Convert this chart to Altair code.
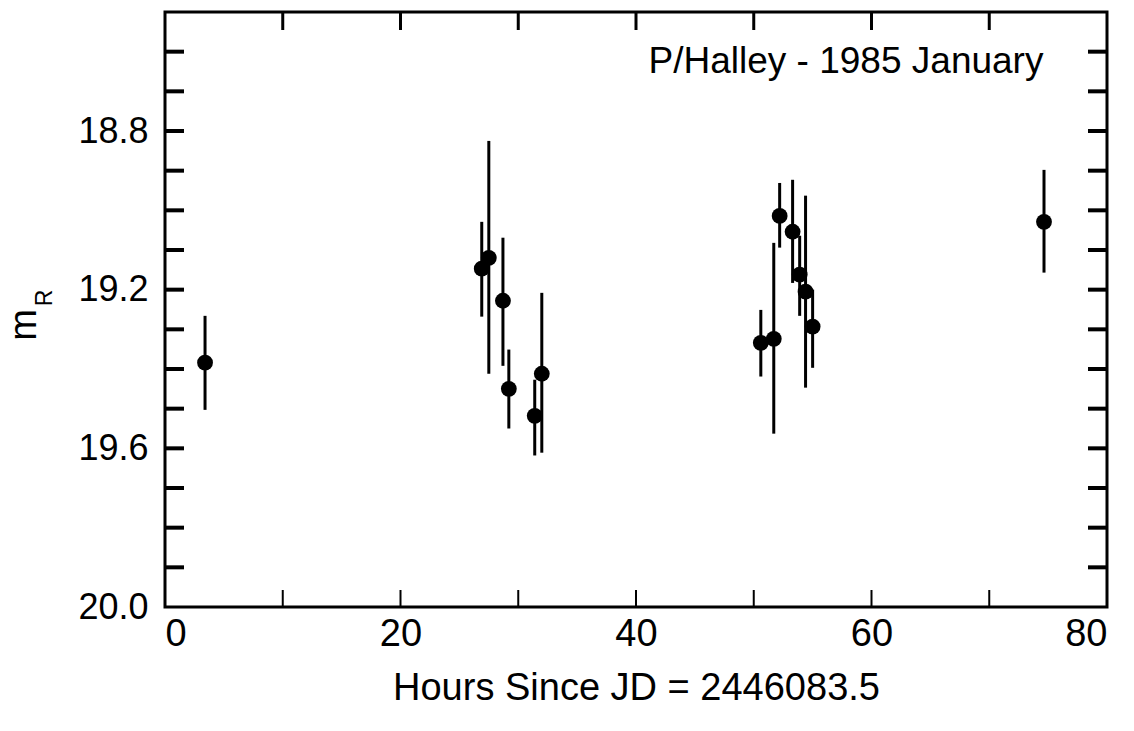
import altair as alt
import pandas as pd

# Data
hours = [3.4, 26.9, 27.5, 28.7, 29.2, 31.4, 32.0, 50.6, 51.7, 52.2, 53.3, 53.9, 54.4, 55.0, 74.65]
mag = [19.384, 19.147, 19.120, 19.228, 19.450, 19.518, 19.412, 19.334, 19.324, 19.014, 19.054, 19.162, 19.205, 19.293, 19.029]
err_top = [19.266, 19.029, 18.825, 19.069, 19.351, 19.427, 19.208, 19.251, 19.082, 18.931, 18.923, 19.064, 18.963, 19.200, 18.898]
err_bot = [19.503, 19.268, 19.412, 19.392, 19.550, 19.618, 19.611, 19.419, 19.563, 19.094, 19.183, 19.266, 19.447, 19.397, 19.157]

x_ticks = [10, 20, 30, 40, 50, 60, 70]
x_labels = [0, 20, 40, 60, 80]
y_ticks = [18.6, 18.7, 18.8, 18.9, 19.0, 19.1, 19.2, 19.3, 19.4, 19.5, 19.6, 19.7, 19.8, 19.9]
y_labels = [18.8, 19.2, 19.6, 20.0]

W, H = 942, 595
FONT = "Liberation Sans"

df = pd.DataFrame({"h": hours, "m": mag, "lo": err_top, "hi": err_bot})
dx = pd.DataFrame({"t": x_ticks})
dy = pd.DataFrame({"t": y_ticks})

xs = alt.Scale(domain=[0, 80], nice=False, zero=False)
ys = alt.Scale(domain=[18.5, 20.0], reverse=True, nice=False, zero=False)

xaxis = alt.Axis(values=x_labels, format="d", ticks=False, domain=False, grid=False,
                 labelFont=FONT, labelFontSize=38, labelColor="black", labelPadding=8,
                 title="Hours Since JD = 2446083.5", titleFont=FONT, titleFontSize=38,
                 titleFontWeight="normal", titleColor="black", titlePadding=16)
yaxis = alt.Axis(values=y_labels, format=".1f", ticks=False, domain=False, grid=False,
                 labelFont=FONT, labelFontSize=36, labelColor="black", labelPadding=17,
                 title=None)

bars = alt.Chart(df).mark_rule(color="black", strokeWidth=3).encode(
    x=alt.X("h:Q", scale=xs, axis=xaxis),
    y=alt.Y("lo:Q", scale=ys, axis=yaxis),
    y2="hi:Q",
)
pts = alt.Chart(df).mark_point(filled=True, shape="circle", color="black", size=250, opacity=1).encode(
    x=alt.X("h:Q", scale=xs),
    y=alt.Y("m:Q", scale=ys),
)

top_t = alt.Chart(dx).mark_rule(color="black", strokeWidth=3).encode(
    x=alt.X("t:Q", scale=xs), y=alt.value(0), y2=alt.value(18))
bot_t = alt.Chart(dx).mark_rule(color="black", strokeWidth=2).encode(
    x=alt.X("t:Q", scale=xs), y=alt.value(H - 17), y2=alt.value(H))
left_t = alt.Chart(dy).mark_rule(color="black", strokeWidth=4).encode(
    y=alt.Y("t:Q", scale=ys), x=alt.value(0), x2=alt.value(19))
right_t = alt.Chart(dy).mark_rule(color="black", strokeWidth=4).encode(
    y=alt.Y("t:Q", scale=ys), x=alt.value(W - 19), x2=alt.value(W))

lab = pd.DataFrame({"txt": ["P/Halley - 1985 January"]})
title = alt.Chart(lab).mark_text(font=FONT, fontSize=37, color="black", align="center",
                                 baseline="alphabetic").encode(
    text="txt:N", x=alt.value(681), y=alt.value(61))

m_df = pd.DataFrame({"txt": ["m"]})
r_df = pd.DataFrame({"txt": ["R"]})
m_txt = alt.Chart(m_df).mark_text(font=FONT, fontSize=38, color="black", angle=270,
                                  align="center", baseline="middle").encode(
    text="txt:N", x=alt.value(-140), y=alt.value(313))
r_txt = alt.Chart(r_df).mark_text(font=FONT, fontSize=23, color="black", angle=270,
                                  align="center", baseline="middle").encode(
    text="txt:N", x=alt.value(-120), y=alt.value(286))

chart = alt.layer(bars, pts, top_t, bot_t, left_t, right_t, title, m_txt, r_txt).properties(
    width=W, height=H,
    autosize=alt.AutoSizeParams(type="none"),
    padding={"left": 165, "top": 12, "right": 27, "bottom": 124},
    background="white",
).configure_view(stroke="black", strokeWidth=3)

chart.save("out.html", embed_options={"renderer": "svg", "actions": False})
